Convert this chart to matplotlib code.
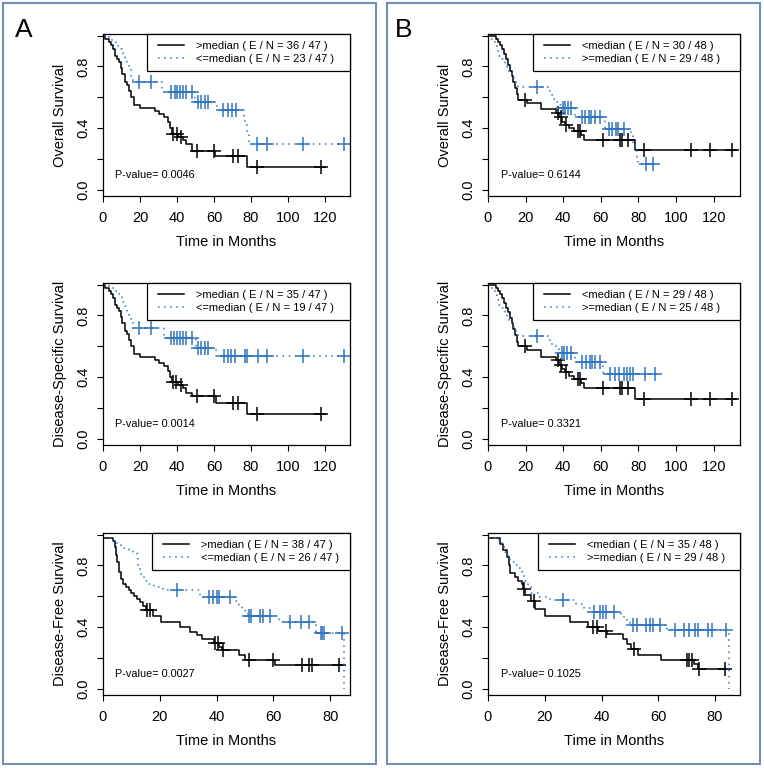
import numpy as np
import matplotlib
matplotlib.use("Agg")
import matplotlib.pyplot as plt
from matplotlib.patches import Rectangle

plt.rcParams['font.family'] = ['Liberation Sans', 'DejaVu Sans']

BLUE = '#2f74c0'
FRAME = '#6f8fb5'

# ---------------- data ----------------
# A, overall survival
A_OS_HI_T = [0, 1, 3, 4.5, 5.5, 6.5, 7.5, 8.5, 9.5, 10.5, 12, 13, 14, 15, 16.5, 20, 28, 30, 33, 35, 36, 37.5, 40.5, 43, 45, 48, 60.5, 78]
A_OS_HI_S = [1.0, 0.98, 0.96, 0.94, 0.91, 0.87, 0.85, 0.83, 0.79, 0.75, 0.70, 0.68, 0.64, 0.60, 0.55, 0.53, 0.51, 0.49, 0.47, 0.44, 0.40, 0.36, 0.34, 0.32, 0.30, 0.25, 0.22, 0.145]
A_OS_HI_C = [38, 40, 42, 51, 60, 70, 73, 83, 118]
A_OS_HI_END = 120
A_OS_LO_T = [0, 3, 5, 7, 8.5, 10, 11, 12, 13, 14, 15, 16, 32, 49.7, 61.5, 76, 77, 78, 79]
A_OS_LO_S = [1.0, 0.98, 0.96, 0.935, 0.91, 0.89, 0.86, 0.84, 0.81, 0.78, 0.74, 0.70, 0.635, 0.57, 0.52, 0.48, 0.43, 0.36, 0.30]
A_OS_LO_C = [19.5, 26, 37, 39, 40, 41.5, 43, 45, 48, 51.5, 53, 55, 57, 65, 67.5, 69.5, 72, 83, 88.5, 108, 130]
A_OS_LO_END = 131

# A, disease-specific survival
A_DSS_HI_T = [0, 1, 3, 4.5, 5.5, 6.5, 7.5, 8.5, 9.5, 10.5, 12, 13, 14, 15, 16.5, 20, 28, 30, 33, 35, 36, 37.5, 40.5, 43, 45, 48, 61, 78]
A_DSS_HI_S = [1.0, 0.98, 0.96, 0.94, 0.91, 0.87, 0.85, 0.83, 0.79, 0.75, 0.70, 0.68, 0.64, 0.60, 0.55, 0.53, 0.51, 0.49, 0.47, 0.44, 0.40, 0.37, 0.35, 0.33, 0.30, 0.275, 0.235, 0.16]
A_DSS_HI_C = [38, 39.5, 42, 51, 60, 70, 73, 83, 118]
A_DSS_HI_END = 120
A_DSS_LO_T = [0, 3, 6, 8, 10, 11, 12, 13, 14, 15, 16, 33, 50, 61]
A_DSS_LO_S = [1.0, 0.98, 0.96, 0.94, 0.91, 0.89, 0.86, 0.83, 0.79, 0.76, 0.72, 0.655, 0.59, 0.535]
A_DSS_LO_C = [19.5, 26, 37, 38.5, 40, 41.5, 43, 45, 48, 51.5, 53, 55, 57, 65.5, 67.5, 69, 71.5, 77, 78, 84, 88.5, 108, 130]
A_DSS_LO_END = 131

# A, disease-free survival
A_DFS_HI_T = [0, 3.5, 4.2, 4.6, 5, 5.5, 6.2, 7, 8, 9, 10, 11, 12, 13, 14, 15, 17.5, 20.5, 27, 30.5, 33, 35, 39, 41, 42, 48, 50, 60.5]
A_DFS_HI_S = [0.979, 0.96, 0.92, 0.87, 0.82, 0.76, 0.71, 0.68, 0.66, 0.64, 0.62, 0.60, 0.58, 0.56, 0.54, 0.51, 0.47, 0.43, 0.40, 0.37, 0.35, 0.32, 0.30, 0.27, 0.25, 0.22, 0.19, 0.155]
A_DFS_HI_C = [15.4, 16.5, 39.6, 40.4, 42.3, 51.6, 60, 70, 72.7, 73.5, 83]
A_DFS_HI_END = 84.6
A_DFS_LO_T = [0, 3, 5, 6.5, 9, 10.5, 12, 12.5, 13, 13.5, 14.5, 16, 18, 21, 34, 47, 48, 49, 50, 51, 62, 75, 85]
A_DFS_LO_S = [0.979, 0.96, 0.94, 0.915, 0.90, 0.88, 0.85, 0.80, 0.76, 0.73, 0.70, 0.68, 0.66, 0.64, 0.595, 0.57, 0.545, 0.52, 0.495, 0.47, 0.43, 0.365, 0.0]
A_DFS_LO_C = [26, 37.5, 38.7, 40, 41, 44.6, 51.6, 52.2, 55.2, 56.3, 58.7, 65.7, 69.8, 72.7, 76.8, 77.3, 78, 84.3]
A_DFS_LO_END = 85

# B, overall survival
B_OS_HI_T = [0, 4.5, 5.5, 6.5, 7.5, 8.5, 9.5, 10.5, 11.5, 12.5, 13.5, 14.5, 15.5, 16, 21, 28, 36, 38, 39.5, 41, 43, 45.5, 49.5, 51, 78]
B_OS_HI_S = [1.0, 0.98, 0.96, 0.94, 0.91, 0.88, 0.85, 0.81, 0.77, 0.74, 0.70, 0.66, 0.62, 0.58, 0.56, 0.525, 0.50, 0.47, 0.44, 0.42, 0.40, 0.38, 0.355, 0.32, 0.255]
B_OS_HI_C = [19.5, 37, 39, 41.5, 48, 49, 61, 70, 71.5, 74.5, 83, 108, 118, 130]
B_OS_HI_END = 132
B_OS_LO_T = [0, 1.5, 3, 4, 5, 6, 7, 8, 9, 10, 11, 12, 13, 14, 15, 16, 32, 34, 35, 36, 37.5, 39, 46.5, 62, 76, 77, 78, 79, 80]
B_OS_LO_S = [1.0, 0.98, 0.96, 0.93, 0.90, 0.87, 0.85, 0.83, 0.81, 0.79, 0.77, 0.75, 0.73, 0.71, 0.69, 0.665, 0.64, 0.615, 0.59, 0.57, 0.55, 0.53, 0.475, 0.395, 0.35, 0.30, 0.25, 0.21, 0.165]
B_OS_LO_C = [26, 39.7, 40.7, 42.5, 44.3, 50, 51.8, 53.6, 55, 57, 59.4, 64.3, 66, 67.8, 69.3, 72.3, 84, 88]
B_OS_LO_END = 89

# B, disease-specific survival
B_DSS_HI_T = [0, 4.5, 5.5, 6.5, 7.5, 8.5, 9.5, 10.5, 11.5, 12.5, 13.5, 14.5, 15.5, 16, 21, 28, 36, 38, 39.5, 41, 43, 45.5, 49.5, 51, 78]
B_DSS_HI_S = [1.0, 0.98, 0.96, 0.94, 0.91, 0.88, 0.85, 0.82, 0.78, 0.75, 0.71, 0.67, 0.63, 0.60, 0.575, 0.53, 0.51, 0.48, 0.45, 0.43, 0.41, 0.39, 0.365, 0.33, 0.26]
B_DSS_HI_C = [19.5, 37, 39, 41.5, 48, 49, 61, 70, 71.5, 74.5, 83, 108, 118, 130]
B_DSS_HI_END = 132
B_DSS_LO_T = [0, 1.5, 3, 4, 5, 6, 7, 8, 9, 10, 11, 12, 13, 14, 15, 16, 32, 34, 36, 38, 46.5, 61]
B_DSS_LO_S = [1.0, 0.98, 0.96, 0.93, 0.90, 0.87, 0.85, 0.83, 0.81, 0.79, 0.77, 0.75, 0.73, 0.71, 0.69, 0.665, 0.64, 0.61, 0.58, 0.555, 0.50, 0.42]
B_DSS_LO_C = [26, 39.5, 40.5, 42, 44, 50, 52, 54, 55.5, 57, 59.5, 64.7, 67.4, 69.5, 72.4, 73.7, 75.4, 77.3, 83.5, 89]
B_DSS_LO_END = 91

# B, disease-free survival
B_DFS_HI_T = [0, 4.2, 5.4, 6.6, 7.4, 7.7, 9.5, 10.7, 11.9, 12.4, 13, 15.3, 16.5, 20, 29, 35.4, 38.6, 42, 47.5, 49, 50.5, 52.8, 61, 72.5, 74]
B_DFS_HI_S = [0.979, 0.94, 0.90, 0.855, 0.80, 0.75, 0.725, 0.70, 0.68, 0.65, 0.605, 0.57, 0.52, 0.475, 0.43, 0.40, 0.375, 0.355, 0.32, 0.29, 0.255, 0.22, 0.19, 0.16, 0.126]
B_DFS_HI_C = [12.8, 16.3, 37, 38.5, 41.5, 51.5, 70.2, 71, 72, 74.5, 83.5]
B_DFS_HI_END = 84
B_DFS_LO_T = [0, 4, 5, 6, 7, 7.7, 9.5, 11, 12, 12.5, 13, 14, 15, 18, 22, 31, 34, 36, 47, 48, 49, 50, 63, 85]
B_DFS_LO_S = [0.979, 0.96, 0.92, 0.89, 0.85, 0.82, 0.80, 0.785, 0.76, 0.73, 0.70, 0.66, 0.62, 0.595, 0.575, 0.55, 0.525, 0.50, 0.48, 0.46, 0.44, 0.415, 0.38, 0.0]
B_DFS_LO_C = [26.5, 37.5, 39.5, 40.5, 41.5, 44.5, 51, 52.5, 55.5, 57, 58, 60.5, 66, 69, 71, 73, 74, 77.5, 79, 84]
B_DFS_LO_END = 85

# legend text pieces
A_HI_LABEL, A_LO_LABEL = '>median', '<=median'
B_HI_LABEL, B_LO_LABEL = '<median', '>=median'
A_EVENTS_HI = [36, 35, 38]
A_EVENTS_LO = [23, 19, 26]
B_EVENTS_HI = [30, 29, 35]
B_EVENTS_LO = [29, 25, 29]
A_N = 47
B_N = 48
A_PVALUES = ['0.0046', '0.0014', '0.0027']
B_PVALUES = ['0.6144', '0.3321', '0.1025']
Y_LABELS = ['Overall Survival', 'Disease-Specific Survival', 'Disease-Free Survival']
XMAX_A = [133.5, 133.5, 87]
XMAX_B = [134, 134, 88.8]
XTICK_MAX = [120, 120, 80]
LEG_X0 = [0.18, 0.18, 0.20]


def draw_km(ax, t, s, c, end, color, ls):
    t = np.asarray(t, float)
    s = np.asarray(s, float)
    x = np.append(t, end)
    y = np.append(s, s[-1])
    ax.step(x, y, where='post', color=color, lw=1.1, linestyle=ls)
    c = np.asarray(c, float)
    idx = np.searchsorted(t, c, side='right') - 1
    ax.plot(c, s[idx], linestyle='none', marker='+', color=color,
            markersize=10, markeredgewidth=1.1)


def style_axes(ax, xmax, tick_max, ylabel, pval, leg_x0):
    ax.set_xlim(0, xmax)
    ax.set_ylim(-0.04, 1.01)
    ax.set_xticks(np.arange(0, tick_max + 1, 20))
    ax.set_yticks([0, 0.2, 0.4, 0.6, 0.8, 1.0])
    ax.set_yticklabels(['0.0', '', '0.4', '', '0.8', ''])
    ax.tick_params(axis='both', direction='out', length=4, width=0.8,
                   labelsize=10.5)
    ax.tick_params(axis='x', pad=7)
    ax.tick_params(axis='y', pad=5)
    for lab in ax.get_yticklabels():
        lab.set_rotation(90)
        lab.set_va('center')
    for sp in ax.spines.values():
        sp.set_linewidth(0.9)
    ax.set_xlabel('Time in Months', fontsize=10.5, labelpad=7)
    ax.set_ylabel(ylabel, fontsize=10.5, labelpad=7)
    ax.text(0.05, 0.13, 'P-value= ' + pval, transform=ax.transAxes,
            fontsize=7.8, va='center', ha='left')
    # legend: boxed area at the top right, entries placed inside it
    box_h = 0.228
    ax.add_patch(Rectangle((leg_x0, 1 - box_h), 1 - leg_x0, box_h,
                           transform=ax.transAxes, facecolor='white',
                           edgecolor='black', lw=0.9, zorder=4, clip_on=False))
    leg = ax.legend(loc='center left', bbox_to_anchor=(leg_x0 + 0.035, 1 - box_h / 2),
                    borderaxespad=0, frameon=False, fontsize=8,
                    handlelength=2.3, handletextpad=1.1,
                    borderpad=0.2, labelspacing=0.3)
    leg.set_zorder(5)


fig = plt.figure(figsize=(7.64, 7.68), dpi=100)
W, H = 764.0, 768.0

def add_ax(left, top, width, height):
    return fig.add_axes([left / W, 1 - (top + height) / H, width / W, height / H])

# panel frames and letters
for x0 in (3, 387):
    fig.add_artist(Rectangle((x0 / W, 4 / H), 373 / W, 761 / H, fill=False,
                             edgecolor=FRAME, lw=1.5, transform=fig.transFigure))
fig.text(24 / W, 1 - 30 / H, 'A', fontsize=19, ha='center', va='center')
fig.text(404 / W, 1 - 30 / H, 'B', fontsize=19, ha='center', va='center')

row_tops = [34, 283, 533]

A_curves = [
    (A_OS_HI_T, A_OS_HI_S, A_OS_HI_C, A_OS_HI_END, A_OS_LO_T, A_OS_LO_S, A_OS_LO_C, A_OS_LO_END),
    (A_DSS_HI_T, A_DSS_HI_S, A_DSS_HI_C, A_DSS_HI_END, A_DSS_LO_T, A_DSS_LO_S, A_DSS_LO_C, A_DSS_LO_END),
    (A_DFS_HI_T, A_DFS_HI_S, A_DFS_HI_C, A_DFS_HI_END, A_DFS_LO_T, A_DFS_LO_S, A_DFS_LO_C, A_DFS_LO_END),
]
B_curves = [
    (B_OS_HI_T, B_OS_HI_S, B_OS_HI_C, B_OS_HI_END, B_OS_LO_T, B_OS_LO_S, B_OS_LO_C, B_OS_LO_END),
    (B_DSS_HI_T, B_DSS_HI_S, B_DSS_HI_C, B_DSS_HI_END, B_DSS_LO_T, B_DSS_LO_S, B_DSS_LO_C, B_DSS_LO_END),
    (B_DFS_HI_T, B_DFS_HI_S, B_DFS_HI_C, B_DFS_HI_END, B_DFS_LO_T, B_DFS_LO_S, B_DFS_LO_C, B_DFS_LO_END),
]

for i in range(3):
    # panel A
    ax = add_ax(103, row_tops[i], 247, 162)
    ht, hs, hc, he, lt, ls_, lc, le = A_curves[i]
    draw_km(ax, ht, hs, hc, he, 'black', '-')
    draw_km(ax, lt, ls_, lc, le, BLUE, (0, (1, 3)))
    ax.lines[0].set_label(f'{A_HI_LABEL} ( E / N = {A_EVENTS_HI[i]} / {A_N} )')
    ax.lines[2].set_label(f'{A_LO_LABEL} ( E / N = {A_EVENTS_LO[i]} / {A_N} )')
    style_axes(ax, XMAX_A[i], XTICK_MAX[i], Y_LABELS[i], A_PVALUES[i], LEG_X0[i])

    # panel B
    ax = add_ax(488, row_tops[i], 252, 162)
    ht, hs, hc, he, lt, ls_, lc, le = B_curves[i]
    draw_km(ax, ht, hs, hc, he, 'black', '-')
    draw_km(ax, lt, ls_, lc, le, BLUE, (0, (1, 3)))
    ax.lines[0].set_label(f'{B_HI_LABEL} ( E / N = {B_EVENTS_HI[i]} / {B_N} )')
    ax.lines[2].set_label(f'{B_LO_LABEL} ( E / N = {B_EVENTS_LO[i]} / {B_N} )')
    style_axes(ax, XMAX_B[i], XTICK_MAX[i], Y_LABELS[i], B_PVALUES[i], LEG_X0[i])

fig.savefig('out.png', dpi=100, facecolor='white')
